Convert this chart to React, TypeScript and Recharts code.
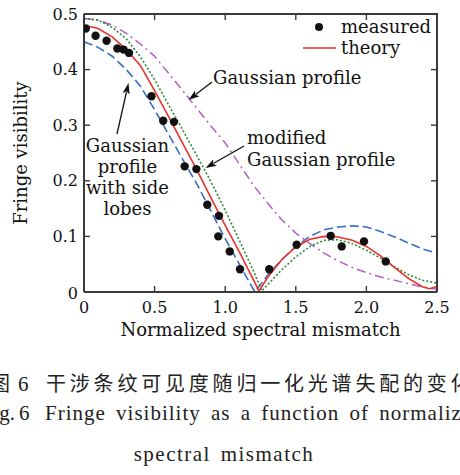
import { ComposedChart, Line, Scatter, XAxis, YAxis, Legend, Label } from "recharts"

const measuredX = [0.013, 0.082, 0.16, 0.236, 0.28, 0.319, 0.478, 0.561, 0.637, 0.713, 0.796, 0.873, 0.956, 0.951, 1.032, 1.105, 1.312, 1.506, 1.747, 1.825, 1.983, 2.137]
const measuredY = [0.474, 0.461, 0.452, 0.438, 0.436, 0.43, 0.352, 0.308, 0.306, 0.226, 0.221, 0.157, 0.137, 0.1, 0.073, 0.041, 0.041, 0.085, 0.101, 0.082, 0.091, 0.055]

const theoryX = [0, 0.05, 0.1, 0.2, 0.3, 0.4, 0.5, 0.6, 0.7, 0.8, 0.9, 1.0, 1.1, 1.2, 1.24, 1.3, 1.4, 1.5, 1.6, 1.7, 1.8, 1.9, 2.0, 2.1, 2.2, 2.3, 2.4, 2.45, 2.5]
const theoryY = [0.478, 0.477, 0.474, 0.459, 0.436, 0.407, 0.362, 0.315, 0.267, 0.219, 0.169, 0.12, 0.072, 0.022, 0.002, 0.026, 0.058, 0.081, 0.095, 0.1, 0.099, 0.093, 0.082, 0.065, 0.044, 0.024, 0.009, 0.006, 0.01]

const modifiedX = [0, 0.1, 0.2, 0.3, 0.4, 0.5, 0.6, 0.7, 0.8, 0.9, 1.0, 1.1, 1.2, 1.26, 1.3, 1.4, 1.5, 1.6, 1.7, 1.8, 1.9, 2.0, 2.1, 2.2, 2.3, 2.4, 2.5]
const modifiedY = [0.492, 0.489, 0.476, 0.455, 0.423, 0.382, 0.336, 0.291, 0.245, 0.198, 0.147, 0.093, 0.038, 0.002, 0.013, 0.04, 0.063, 0.082, 0.093, 0.094, 0.087, 0.075, 0.061, 0.045, 0.031, 0.021, 0.016]

const sideLobeX = [0, 0.1, 0.2, 0.3, 0.4, 0.5, 0.6, 0.7, 0.8, 0.9, 1.0, 1.1, 1.21, 1.3, 1.4, 1.5, 1.6, 1.7, 1.8, 1.9, 2.0, 2.1, 2.2, 2.3, 2.4, 2.5]
const sideLobeY = [0.45, 0.44, 0.424, 0.4, 0.37, 0.328, 0.283, 0.238, 0.194, 0.145, 0.096, 0.05, 0.0, 0.03, 0.058, 0.082, 0.1, 0.112, 0.117, 0.119, 0.117, 0.109, 0.099, 0.088, 0.077, 0.07]

const gaussX = [0, 0.1, 0.2, 0.3, 0.4, 0.5, 0.6, 0.7, 0.8, 0.9, 1.0, 1.1, 1.2, 1.3, 1.4, 1.5, 1.6, 1.7, 1.8, 1.9, 2.0, 2.1, 2.2, 2.3, 2.4, 2.5]
const gaussY = [0.492, 0.489, 0.48, 0.465, 0.446, 0.424, 0.393, 0.362, 0.33, 0.298, 0.268, 0.23, 0.192, 0.16, 0.13, 0.106, 0.087, 0.07, 0.056, 0.044, 0.035, 0.027, 0.021, 0.015, 0.009, 0.005]

const xTicks = [0, 0.5, 1, 1.5, 2, 2.5]
const yTicks = [0, 0.1, 0.2, 0.3, 0.4, 0.5]

const pts = (xs: number[], ys: number[]) => xs.map((x, i) => ({ x, y: ys[i] }))

const serif = "DejaVu Serif"
const ink = "#111"
const frame = "#3a3a3a"
const fmt = (v: number) => (v === 0 ? "0" : v.toFixed(1))

// plot box, from the chart margins and axis sizes below
const chartW = 460
const chartH = 345
const marginTop = 14
const marginRight = 23
const yAxisW = 84
const xAxisH = 53
const plotL = yAxisW
const plotR = chartW - marginRight
const plotT = marginTop
const plotB = chartH - xAxisH

// bottom tick label plus inward ticks on bottom and top edges
const XTick = (p: any) => (
  <g>
    <line x1={p.x} x2={p.x} y1={plotB} y2={plotB - 6} stroke={frame} strokeWidth={1.4} />
    <line x1={p.x} x2={p.x} y1={plotT} y2={plotT + 6} stroke={frame} strokeWidth={1.4} />
    <text x={p.x} y={plotB + 21} textAnchor="middle" style={{ fontFamily: serif, fontSize: 16, fill: ink }}>
      {fmt(p.payload.value)}
    </text>
  </g>
)

// left tick label plus inward ticks on left and right edges
const YTick = (p: any) => (
  <g>
    <line x1={plotL} x2={plotL + 6} y1={p.y} y2={p.y} stroke={frame} strokeWidth={1.4} />
    <line x1={plotR} x2={plotR - 6} y1={p.y} y2={p.y} stroke={frame} strokeWidth={1.4} />
    <text x={plotL - 6} y={p.y + (p.payload.value === 0 ? 7 : 5.5)} textAnchor="end" style={{ fontFamily: serif, fontSize: 16, fill: ink }}>
      {fmt(p.payload.value)}
    </text>
  </g>
)

const renderLegend = () => (
  <div style={{ fontFamily: serif, fontSize: 18, lineHeight: "21px", color: ink }}>
    <div style={{ display: "flex", alignItems: "center" }}>
      <svg width={33} height={21}>
        <circle cx={16} cy={11} r={4} fill={ink} />
      </svg>
      <span style={{ marginLeft: 5 }}>measured</span>
    </div>
    <div style={{ display: "flex", alignItems: "center" }}>
      <svg width={33} height={21}>
        <line x1={0} x2={33} y1={11} y2={11} stroke="#e8322a" strokeWidth={1.6} />
      </svg>
      <span style={{ marginLeft: 5 }}>theory</span>
    </div>
  </div>
)

// arrow with a filled head at (x2, y2)
function Arrow({ x1, y1, x2, y2 }: { x1: number; y1: number; x2: number; y2: number }) {
  const dx = x2 - x1
  const dy = y2 - y1
  const len = Math.hypot(dx, dy)
  const ux = dx / len
  const uy = dy / len
  const bx = x2 - ux * 11
  const by = y2 - uy * 11
  const w = 3.6
  return (
    <g>
      <line x1={x1} y1={y1} x2={bx + ux * 2} y2={by + uy * 2} stroke={ink} strokeWidth={1.3} />
      <path
        d={`M${x2},${y2} L${bx - uy * w},${by + ux * w} L${bx + ux * 2.5},${by + uy * 2.5} L${bx + uy * w},${by - ux * w} Z`}
        fill={ink}
      />
    </g>
  )
}

export default function App() {
  const txt = { fontFamily: serif, fontSize: 18, fill: ink }
  const cap = { fontFamily: "Liberation Serif", fontSize: 21, fill: "#222" }
  const cjk = { fontFamily: "Noto Sans CJK SC", fontSize: 20, fill: "#222" }
  return (
    <div style={{ position: "absolute", left: 0, top: 0, width: 460, height: 475, overflow: "hidden", background: "#fff" }}>
      <ComposedChart width={chartW} height={chartH} margin={{ top: marginTop, right: marginRight, bottom: 0, left: 0 }}>
        <XAxis
          dataKey="x"
          type="number"
          domain={[0, 2.5]}
          ticks={xTicks}
          allowDataOverflow
          height={xAxisH}
          tickLine={false}
          stroke={frame}
          strokeWidth={2}
          tick={XTick}
        >
          <Label value="Normalized spectral mismatch" position="insideBottom" offset={9} style={{ fontFamily: serif, fontSize: 18, fill: ink }} />
        </XAxis>
        <YAxis
          type="number"
          domain={[0, 0.5]}
          ticks={yTicks}
          allowDataOverflow
          width={yAxisW}
          tickLine={false}
          stroke={frame}
          strokeWidth={2}
          tick={YTick}
        >
          <Label
            content={(props: any) => {
              const vb = props.viewBox || {}
              const cy = vb.height ? vb.y + vb.height / 2 : (plotT + plotB) / 2
              return (
                <text x={27} y={cy} transform={`rotate(-90, 27, ${cy})`} textAnchor="middle" style={txt}>
                  Fringe visibility
                </text>
              )
            }}
          />
        </YAxis>

        <Line data={pts(gaussX, gaussY)} dataKey="y" type="linear" stroke="#b45fc2" strokeWidth={1.5} strokeDasharray="9 4 2 4" dot={false} isAnimationActive={false} legendType="none" />
        <Line data={pts(sideLobeX, sideLobeY)} dataKey="y" type="linear" stroke="#3a6cc6" strokeWidth={1.6} strokeDasharray="9 4" dot={false} isAnimationActive={false} legendType="none" />
        <Line data={pts(modifiedX, modifiedY)} dataKey="y" type="linear" stroke="#2f8a3a" strokeWidth={1.6} strokeDasharray="2 2" dot={false} isAnimationActive={false} legendType="none" />
        <Line data={pts(theoryX, theoryY)} dataKey="y" type="linear" stroke="#e8322a" strokeWidth={1.6} dot={false} isAnimationActive={false} name="theory" />
        <Scatter
          data={pts(measuredX, measuredY)}
          dataKey="y"
          name="measured"
          isAnimationActive={false}
          shape={(p: any) => <circle cx={p.cx} cy={p.cy} r={4.2} fill={ink} />}
        />
        <Legend
          content={renderLegend}
          layout="vertical"
          align="center"
          verticalAlign="middle"
          wrapperStyle={{ top: 16, left: 303, width: 140, height: 42 }}
        />
      </ComposedChart>

      <svg width={460} height={475} style={{ position: "absolute", left: 0, top: 0, pointerEvents: "none" }}>
        <path d={`M${plotL},${plotT} H${plotR} V${plotB}`} fill="none" stroke={frame} strokeWidth={2} />

        <text x={213} y={84} style={txt}>Gaussian profile</text>
        <Arrow x1={212} y1={82} x2={188.5} y2={100} />

        <text x={247} y={144} style={txt}>modified</text>
        <text x={247} y={166} style={txt}>Gaussian profile</text>
        <Arrow x1={244} y1={146} x2={205.5} y2={168} />

        <text x={127.5} y={152} textAnchor="middle" style={txt}>Gaussian</text>
        <text x={127.5} y={173} textAnchor="middle" style={txt}>profile</text>
        <text x={127.5} y={194} textAnchor="middle" style={txt}>with side</text>
        <text x={127.5} y={215} textAnchor="middle" style={txt}>lobes</text>
        <Arrow x1={117} y1={134} x2={128.5} y2={83} />

        <text x={-10} y={391} style={cjk}>图</text>
        <text x={18} y={391} style={cap}>6</text>
        <text x={46} y={391} style={{ ...cjk, letterSpacing: 3.8 }}>干涉条纹可见度随归一化光谱失配的变化</text>

        <text x={15} y={420} textAnchor="end" style={cap}>Fig.</text>
        <text x={19} y={420} style={cap}>6</text>
        <text x={45} y={420} style={{ ...cap, letterSpacing: 1, wordSpacing: 4 }}>Fringe visibility as a function of normalized</text>

        <text x={224} y={461} textAnchor="middle" style={{ ...cap, letterSpacing: 1.5, wordSpacing: 3 }}>spectral mismatch</text>
      </svg>
    </div>
  )
}
